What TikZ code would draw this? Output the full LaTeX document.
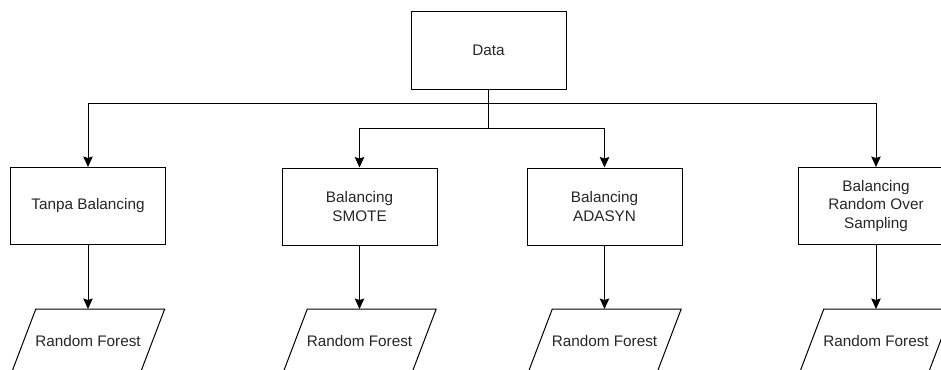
\documentclass[tikz,border=0pt]{standalone}
\usepackage{fontspec}
\setmainfont{Liberation Sans}
\usetikzlibrary{arrows.meta}
\begin{document}
\begin{tikzpicture}[x=1pt,y=-1pt,
  txt/.style={font=\fontsize{15.3}{18.5}\selectfont, text=black!85, align=center},
  box/.style={txt, draw, line width=1pt, minimum width=155pt, minimum height=77pt, inner sep=0pt},
  paranode/.style={txt, minimum width=153pt, minimum height=64pt, inner sep=0pt, anchor=north},
  paraline/.style={line width=1pt},
  arr/.style={-{Stealth[length=10.5pt,width=9.5pt,inset=1.5pt]}, line width=1pt},
  conn/.style={line width=1pt}]
\useasboundingbox (0,0) rectangle (941,369);
\clip (0,0) rectangle (941,369);
\node[box] (data) at (488.5,50.5) {Data};
\node[box] (tb) at (88,206) {Tanpa Balancing};
\node[box] (sm) at (359.5,206.5) {Balancing\\SMOTE};
\node[box] (ad) at (604.5,206.5) {Balancing\\ADASYN};
\node[box] (ros) at (876,206) {Balancing\\Random Over\\Sampling};
\node[paranode] (rf1) at (88,309) {Random Forest};
\node[paranode] (rf2) at (359.5,309) {Random Forest};
\node[paranode] (rf3) at (604.5,309) {Random Forest};
\node[paranode] (rf4) at (876,309) {Random Forest};
\foreach \n in {rf1,rf2,rf3,rf4}
  \draw[paraline] ([xshift=24.5pt]\n.north west) -- (\n.north east)
    -- ([xshift=-24.5pt]\n.south east) -- (\n.south west) -- cycle;
\coordinate (j1) at (488.5,103);
\coordinate (j2) at (488.5,128);
\draw[conn] (data.south) -- (j2);
\draw[arr] (j1) -| (tb.north);
\draw[arr] (j1) -| (ros.north);
\draw[arr] (j2) -| (sm.north);
\draw[arr] (j2) -| (ad.north);
\draw[arr] (tb.south) -- (rf1.north);
\draw[arr] (sm.south) -- (rf2.north);
\draw[arr] (ad.south) -- (rf3.north);
\draw[arr] (ros.south) -- (rf4.north);
\end{tikzpicture}
\end{document}
